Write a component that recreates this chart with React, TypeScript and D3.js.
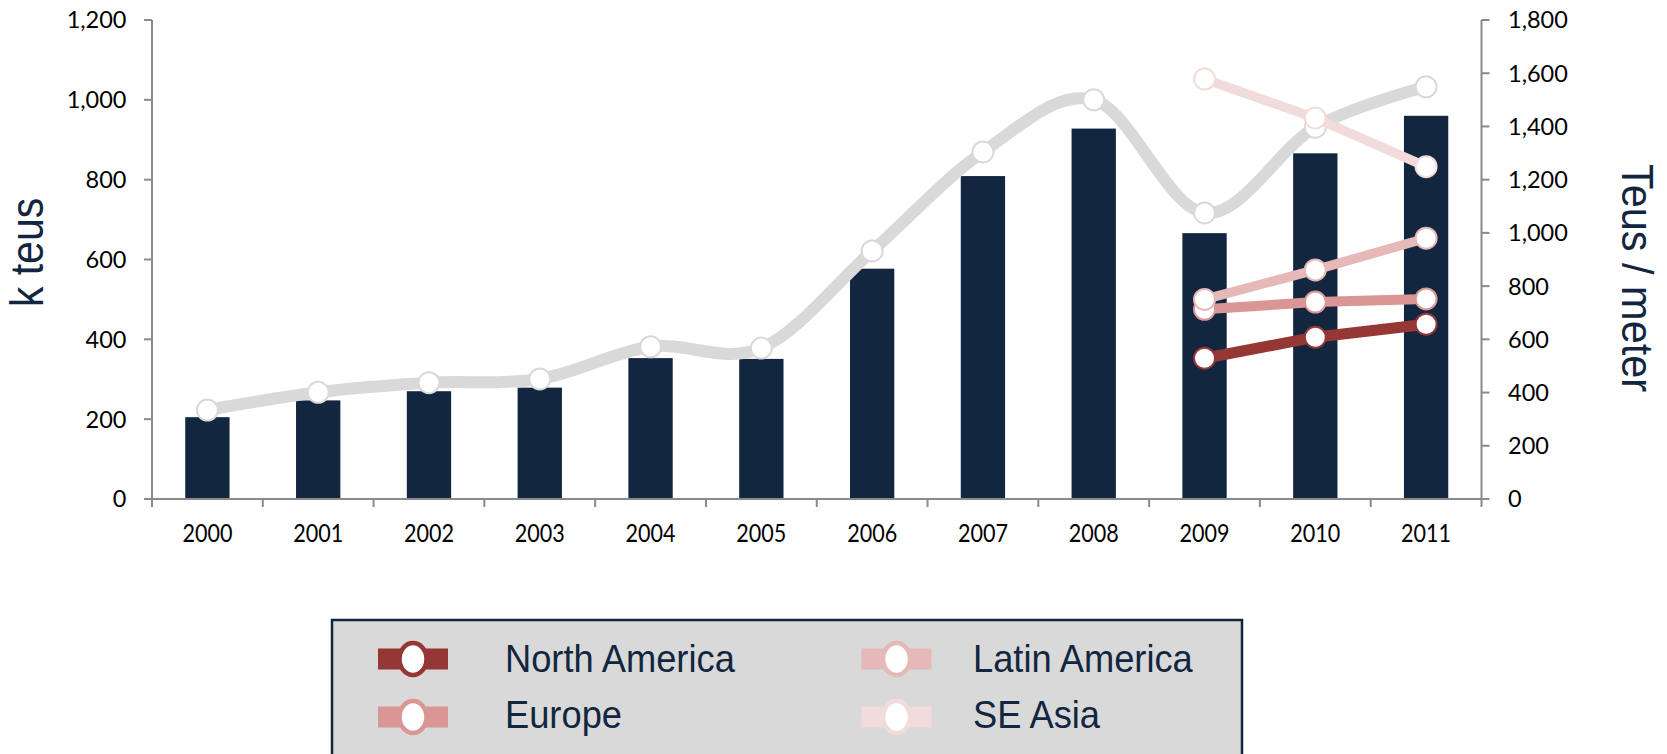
import React from "react";
import * as d3 from "d3";

const years = ["2000", "2001", "2002", "2003", "2004", "2005", "2006", "2007", "2008", "2009", "2010", "2011"];
const volumeKTeus = [205, 247, 270, 279, 353, 351, 577, 809, 928, 666, 866, 960];
const teusPerMeter = [334, 401, 437, 451, 572, 567, 932, 1304, 1500, 1075, 1397, 1549];
const regionYears = ["2009", "2010", "2011"];
const northAmerica = [529, 608, 657];
const europe = [713, 740, 752];
const latinAmerica = [750, 861, 980];
const seAsia = [1578, 1432, 1249];
const leftTicks = [0, 200, 400, 600, 800, 1000, 1200];
const rightTicks = [0, 200, 400, 600, 800, 1000, 1200, 1400, 1600, 1800];

const regions = [
  { name: "North America", values: northAmerica, color: "#953735", width: 11 },
  { name: "Europe", values: europe, color: "#d99694", width: 10 },
  { name: "Latin America", values: latinAmerica, color: "#e6b9b8", width: 9.5 },
  { name: "SE Asia", values: seAsia, color: "#f2dcdb", width: 9.5 },
];

const legendLayout = [
  { name: "North America", col: 0, row: 0 },
  { name: "Latin America", col: 1, row: 0 },
  { name: "Europe", col: 0, row: 1 },
  { name: "SE Asia", col: 1, row: 1 },
];

const W = 1667;
const H = 754;
const plotLeft = 152;
const plotRight = 1481.5;
const plotTop = 20;
const plotBottom = 499;
const NAVY = "#12263f";
const AXIS = "#8a8a8a";
const GRAY = "#d9d9d9";
const fmt = d3.format(",");

export default function App() {
  const x = d3.scaleBand<string>().domain(years).range([plotLeft, plotRight]).paddingInner(0.6).paddingOuter(0.3);
  const yL = d3.scaleLinear().domain([0, 1200]).range([plotBottom, plotTop]);
  const yR = d3.scaleLinear().domain([0, 1800]).range([plotBottom, plotTop]);
  const cx = (yr: string) => (x(yr) as number) + x.bandwidth() / 2;
  const step = x.step();

  const grayLine = d3
    .line<number>()
    .x((_, i) => cx(years[i]))
    .y((v) => yR(v))
    .curve(d3.curveCardinal.tension(0));
  const regionLine = d3
    .line<number>()
    .x((_, i) => cx(regionYears[i]))
    .y((v) => yR(v));

  const boundaries = years.map((_, i) => plotLeft + i * step).concat([plotRight]);

  const legendColX = [413, 896.5];
  const legendTextX = [505, 973];
  const legendRowY = [659, 717];
  const legendTextY = [672, 728];

  return (
    <svg
      width={W}
      height={H}
      style={{ position: "absolute", left: 0, top: 0, display: "block", background: "#fff" }}
    >
      {years.map((yr, i) => (
        <rect
          key={yr}
          x={x(yr)}
          y={yL(volumeKTeus[i])}
          width={x.bandwidth()}
          height={plotBottom - yL(volumeKTeus[i])}
          fill={NAVY}
        />
      ))}

      <line x1={plotLeft} x2={plotLeft} y1={plotTop} y2={plotBottom} stroke={AXIS} strokeWidth={2} />
      {leftTicks.map((t) => (
        <g key={"l" + t}>
          <line x1={plotLeft - 8} x2={plotLeft} y1={yL(t)} y2={yL(t)} stroke={AXIS} strokeWidth={2} />
          <text
            x={126.5}
            y={yL(t)}
            dy="0.36em"
            textAnchor="end"
            fontFamily="Lato, 'Open Sans', sans-serif"
            fontSize={23.5}
            fill="#000"
          >
            {fmt(t)}
          </text>
        </g>
      ))}

      <line x1={plotRight} x2={plotRight} y1={plotTop} y2={plotBottom} stroke={AXIS} strokeWidth={2} />
      {rightTicks.map((t) => (
        <g key={"r" + t}>
          <line x1={plotRight} x2={plotRight + 8} y1={yR(t)} y2={yR(t)} stroke={AXIS} strokeWidth={2} />
          <text
            x={1508}
            y={yR(t)}
            dy="0.36em"
            textAnchor="start"
            fontFamily="Lato, 'Open Sans', sans-serif"
            fontSize={23.5}
            fill="#000"
          >
            {fmt(t)}
          </text>
        </g>
      ))}

      <line x1={plotLeft} x2={plotRight} y1={plotBottom} y2={plotBottom} stroke={AXIS} strokeWidth={2} />
      {boundaries.map((b, i) => (
        <line key={"xt" + i} x1={b} x2={b} y1={plotBottom} y2={plotBottom + 8} stroke={AXIS} strokeWidth={2} />
      ))}
      {years.map((yr) => (
        <text
          key={"xl" + yr}
          x={cx(yr)}
          y={542}
          textAnchor="middle"
          fontFamily="Lato, 'Open Sans', sans-serif"
          fontSize={25}
          textLength={50}
          lengthAdjust="spacingAndGlyphs"
          fill="#000"
        >
          {yr}
        </text>
      ))}

      <path d={grayLine(teusPerMeter) || ""} fill="none" stroke={GRAY} strokeWidth={12} strokeLinejoin="round" />
      {teusPerMeter.map((v, i) => (
        <circle key={"g" + i} cx={cx(years[i])} cy={yR(v)} r={10.5} fill="#fff" stroke={GRAY} strokeWidth={2} />
      ))}

      {regions.map((r) => (
        <g key={r.name}>
          <path d={regionLine(r.values) || ""} fill="none" stroke={r.color} strokeWidth={r.width} />
          {r.values.map((v, i) => (
            <circle
              key={i}
              cx={cx(regionYears[i])}
              cy={yR(v)}
              r={10.5}
              fill="#fff"
              stroke={r.color}
              strokeWidth={2}
            />
          ))}
        </g>
      ))}

      <g transform="translate(43,252.5) rotate(-90) scale(0.89,1)">
        <text textAnchor="middle" fontFamily="'Liberation Sans', Arial, sans-serif" fontSize={46} fill={NAVY}>
          k teus
        </text>
      </g>
      <g transform="translate(1621.5,278) rotate(90) scale(0.943,1)">
        <text textAnchor="middle" fontFamily="'Liberation Sans', Arial, sans-serif" fontSize={44} fill={NAVY}>
          Teus / meter
        </text>
      </g>

      <rect x={332} y={620} width={910} height={200} fill="#d9d9d9" stroke={NAVY} strokeWidth={2.5} />
      {legendLayout.map((item) => {
        const reg = regions.find((r) => r.name === item.name)!;
        const sx = legendColX[item.col];
        const sy = legendRowY[item.row];
        return (
          <g key={"lg" + item.name}>
            <rect x={sx - 35} y={sy - 10.5} width={70} height={21} fill={reg.color} />
            <ellipse cx={sx} cy={sy} rx={13.5} ry={16} fill="#fff" stroke={reg.color} strokeWidth={4.5} />
            <g transform={`translate(${legendTextX[item.col]},${legendTextY[item.row]}) scale(0.955,1)`}>
              <text fontFamily="'Liberation Sans', Arial, sans-serif" fontSize={38} fill={NAVY}>
                {item.name}
              </text>
            </g>
          </g>
        );
      })}
    </svg>
  );
}
